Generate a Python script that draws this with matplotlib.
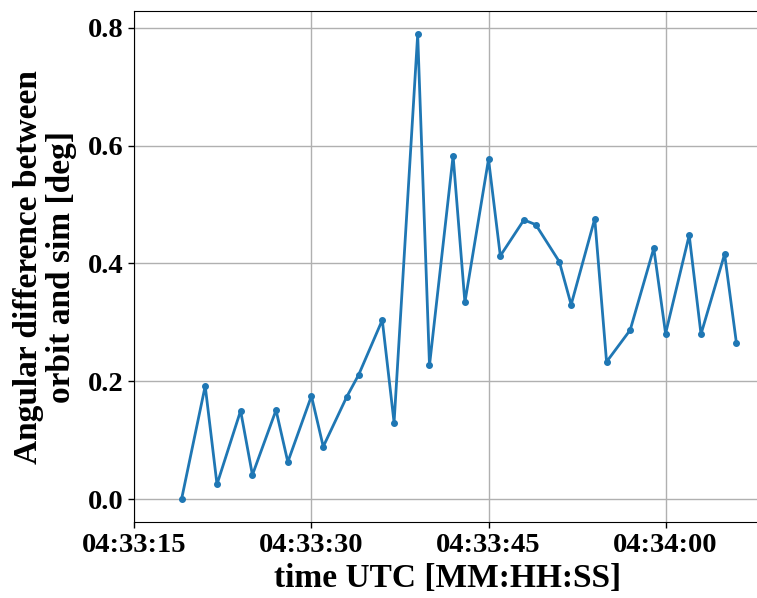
import matplotlib
matplotlib.use("Agg")
import matplotlib.pyplot as plt
import matplotlib.dates as mdates
import pandas as pd

# sample times (UTC) and angular difference [deg]
times = [
    "04:33:19", "04:33:21", "04:33:22", "04:33:24", "04:33:25", "04:33:27",
    "04:33:28", "04:33:30", "04:33:31", "04:33:33", "04:33:34", "04:33:36",
    "04:33:37", "04:33:39", "04:33:40", "04:33:42", "04:33:43", "04:33:45",
    "04:33:46", "04:33:48", "04:33:49", "04:33:51", "04:33:52", "04:33:54",
    "04:33:55", "04:33:57", "04:33:59", "04:34:00", "04:34:02", "04:34:03",
    "04:34:05", "04:34:06",
]
ang_diff = [
    0.000, 0.192, 0.025, 0.150, 0.041, 0.151,
    0.063, 0.175, 0.089, 0.174, 0.211, 0.304,
    0.130, 0.789, 0.227, 0.583, 0.334, 0.577,
    0.413, 0.474, 0.466, 0.403, 0.330, 0.476,
    0.233, 0.287, 0.426, 0.281, 0.448, 0.280,
    0.416, 0.265,
]
x_range = ["04:33:15", "04:34:08"]


def main():
    plt.rcParams["font.family"] = ["Liberation Serif", "DejaVu Serif"]
    plt.rcParams["font.weight"] = "bold"

    t = pd.to_datetime(["2000-01-01 " + s for s in times])
    lim = pd.to_datetime(["2000-01-01 " + s for s in x_range])

    fig = plt.figure(figsize=(7.57, 5.98), dpi=100)
    # right spine falls just outside the picture, as in the original crop
    ax = fig.add_axes([0.1775, 0.1266, 0.8265, 0.8547])
    ax.plot(t, ang_diff, color="#1f77b4", linewidth=2, marker="o", markersize=4)

    ax.set_xlim(lim[0], lim[1])
    ax.xaxis.set_major_locator(mdates.SecondLocator(bysecond=[0, 15, 30, 45]))
    ax.xaxis.set_major_formatter(mdates.DateFormatter("%H:%M:%S"))
    ax.set_yticks([0.0, 0.2, 0.4, 0.6, 0.8])
    ax.tick_params(labelsize=20.5, length=4, width=1)
    for lab in ax.get_xticklabels() + ax.get_yticklabels():
        lab.set_fontweight("bold")

    ax.set_xlabel("time UTC [MM:HH:SS]", fontsize=24, fontweight="bold", labelpad=4)
    ax.set_ylabel("Angular difference between\norbit and sim [deg]",
                  fontsize=24, fontweight="bold", labelpad=8, linespacing=1.1)
    ax.grid(True, color="#b0b0b0", linewidth=1)

    fig.savefig("out.png", dpi=100)
    plt.close(fig)


if __name__ == "__main__":
    main()
